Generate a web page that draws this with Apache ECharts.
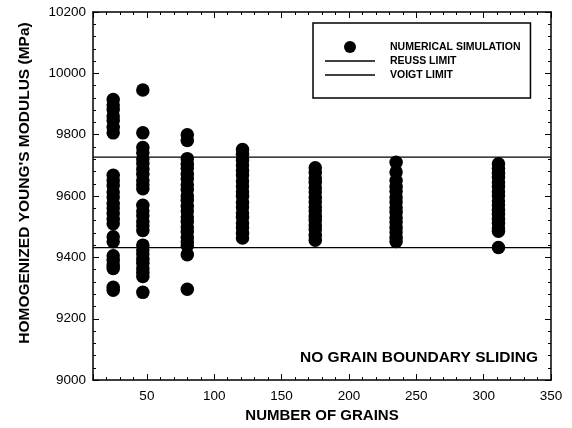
<!DOCTYPE html>
<html>
<head>
<meta charset="utf-8">
<script src="https://cdn.jsdelivr.net/npm/echarts@6/dist/echarts.min.js"></script>
<style>
  html, body { margin: 0; padding: 0; background: #fff; }
  #chart { width: 572px; height: 428px; }
</style>
</head>
<body>
<div id="chart"></div>
<script>
// Number of grains in each simulated aggregate
const grainCounts = [25, 47, 80, 121, 175, 235, 311];

// Homogenized Young's modulus (MPa) of each realisation, one list per grain count
const modulusAt25 = [9915, 9897, 9882, 9861, 9846, 9824, 9806, 9668, 9651, 9634, 9613, 9597, 9576, 9561, 9543, 9524, 9510, 9467, 9451, 9405, 9391, 9374, 9364, 9303, 9293];
const modulusAt47 = [9946, 9806, 9758, 9741, 9721, 9706, 9687, 9671, 9651, 9637, 9624, 9570, 9551, 9536, 9517, 9503, 9488, 9440, 9424, 9411, 9394, 9381, 9364, 9351, 9338, 9286];
const modulusAt80 = [9800, 9781, 9722, 9704, 9691, 9671, 9656, 9637, 9621, 9601, 9586, 9567, 9551, 9532, 9517, 9499, 9484, 9465, 9451, 9438, 9409, 9296];
const modulusAt121 = [9752, 9736, 9717, 9701, 9683, 9669, 9649, 9633, 9614, 9599, 9579, 9564, 9545, 9531, 9512, 9497, 9479, 9463];
const modulusAt175 = [9692, 9677, 9659, 9645, 9627, 9613, 9595, 9581, 9564, 9551, 9534, 9521, 9504, 9491, 9472, 9456];
const modulusAt235 = [9710, 9678, 9651, 9631, 9616, 9597, 9581, 9562, 9547, 9529, 9515, 9497, 9483, 9465, 9452];
const modulusAt311 = [9705, 9691, 9674, 9661, 9644, 9631, 9614, 9601, 9584, 9571, 9554, 9541, 9524, 9511, 9496, 9485, 9432];

// Analytical bounds (MPa)
const reussLimit = 9432;
const voigtLimit = 9727;

// Axis ranges
const grainRange = [10, 350];
const modulusRange = [9000, 10200];

const FONT = '"Liberation Sans", Arial, Helvetica, sans-serif';
const INK = '#000';

// Thin horizontal bar inside a 50x12 box, used as the legend key for the limit lines
const LINE_KEY = 'path://M0,0M50,12M0,5.3L50,5.3L50,6.7L0,6.7Z';

const modulusColumns = [modulusAt25, modulusAt47, modulusAt80, modulusAt121, modulusAt175, modulusAt235, modulusAt311];
const simulationPoints = [];
grainCounts.forEach((n, i) => {
  modulusColumns[i].forEach(v => simulationPoints.push([n, v]));
});

function xAxisPair(position, withLabels) {
  const minor = {
    type: 'value', position: position, min: grainRange[0], max: grainRange[1], interval: 10,
    axisLine: { show: true, onZero: false, lineStyle: { color: INK, width: 1.5 } },
    axisTick: { show: true, inside: true, length: 3, lineStyle: { color: INK, width: 1 } },
    axisLabel: withLabels ? {
      show: true, color: INK, fontFamily: FONT, fontSize: 13.5, margin: 9,
      formatter: v => (v % 50 === 0 ? String(v) : '')
    } : { show: false },
    splitLine: { show: false }
  };
  if (withLabels) {
    minor.name = 'NUMBER OF GRAINS';
    minor.nameLocation = 'middle';
    minor.nameGap = 27;
    minor.nameTextStyle = { color: INK, fontFamily: FONT, fontSize: 15, fontWeight: 'bold' };
  }
  const major = {
    type: 'value', position: position, min: grainRange[0], max: grainRange[1], splitNumber: 7,
    axisLine: { show: false },
    axisTick: { show: true, inside: true, length: 6, lineStyle: { color: INK, width: 1 } },
    axisLabel: { show: false },
    splitLine: { show: false }
  };
  return [minor, major];
}

function yAxis(position, withLabels) {
  const ax = {
    type: 'value', position: position, min: modulusRange[0], max: modulusRange[1], interval: 200,
    axisLine: { show: true, onZero: false, lineStyle: { color: INK, width: 1.5 } },
    axisTick: { show: true, inside: true, length: 6, lineStyle: { color: INK, width: 1 } },
    minorTick: { show: true, splitNumber: 5, length: 3, lineStyle: { color: INK, width: 1 } },
    axisLabel: withLabels ? {
      show: true, color: INK, fontFamily: FONT, fontSize: 13.5, margin: 7,
      formatter: v => String(v)
    } : { show: false },
    splitLine: { show: false }
  };
  if (withLabels) {
    ax.name = "HOMOGENIZED YOUNG'S MODULUS (MPa)";
    ax.nameLocation = 'middle';
    ax.nameGap = 60;
    ax.nameTextStyle = { color: INK, fontFamily: FONT, fontSize: 15.5, fontWeight: 'bold', padding: [0, 0, 0, 26] };
  }
  return ax;
}

const chart = echarts.init(document.getElementById('chart'), null, { renderer: 'canvas' });

chart.setOption({
  animation: false,
  backgroundColor: '#fff',
  grid: { left: 93, right: 21, top: 12, bottom: 47, containLabel: false },
  title: {
    text: 'NO GRAIN BOUNDARY SLIDING',
    right: 29, top: 345,
    textStyle: { color: INK, fontFamily: FONT, fontSize: 15.5, fontWeight: 'bold' }
  },
  legend: {
    orient: 'vertical',
    left: 313, top: 23,
    padding: [18, 10, 17, 12],
    itemWidth: 50, itemHeight: 12, itemGap: 2,
    borderColor: INK, borderWidth: 1.5,
    textStyle: { color: INK, fontFamily: FONT, fontSize: 10.5, fontWeight: 'bold', padding: [0, 0, 0, 10] },
    data: [
      { name: 'NUMERICAL SIMULATION' },
      { name: 'REUSS LIMIT', icon: LINE_KEY },
      { name: 'VOIGT LIMIT', icon: LINE_KEY }
    ]
  },
  xAxis: [].concat(xAxisPair('bottom', true), xAxisPair('top', false)),
  yAxis: [yAxis('left', true), yAxis('right', false)],
  series: [
    {
      name: 'NUMERICAL SIMULATION', type: 'scatter', xAxisIndex: 0, yAxisIndex: 0,
      symbol: 'circle', symbolSize: 13.5,
      itemStyle: { color: INK, opacity: 1 },
      data: simulationPoints, z: 3
    },
    {
      name: 'REUSS LIMIT', type: 'line', xAxisIndex: 0, yAxisIndex: 0,
      symbol: 'none', showSymbol: false,
      lineStyle: { color: INK, width: 1.4 }, itemStyle: { color: INK },
      data: [[grainRange[0], reussLimit], [grainRange[1], reussLimit]], z: 2
    },
    {
      name: 'VOIGT LIMIT', type: 'line', xAxisIndex: 0, yAxisIndex: 0,
      symbol: 'none', showSymbol: false,
      lineStyle: { color: INK, width: 1.4 }, itemStyle: { color: INK },
      data: [[grainRange[0], voigtLimit], [grainRange[1], voigtLimit]], z: 2
    }
  ]
});
</script>
</body>
</html>
